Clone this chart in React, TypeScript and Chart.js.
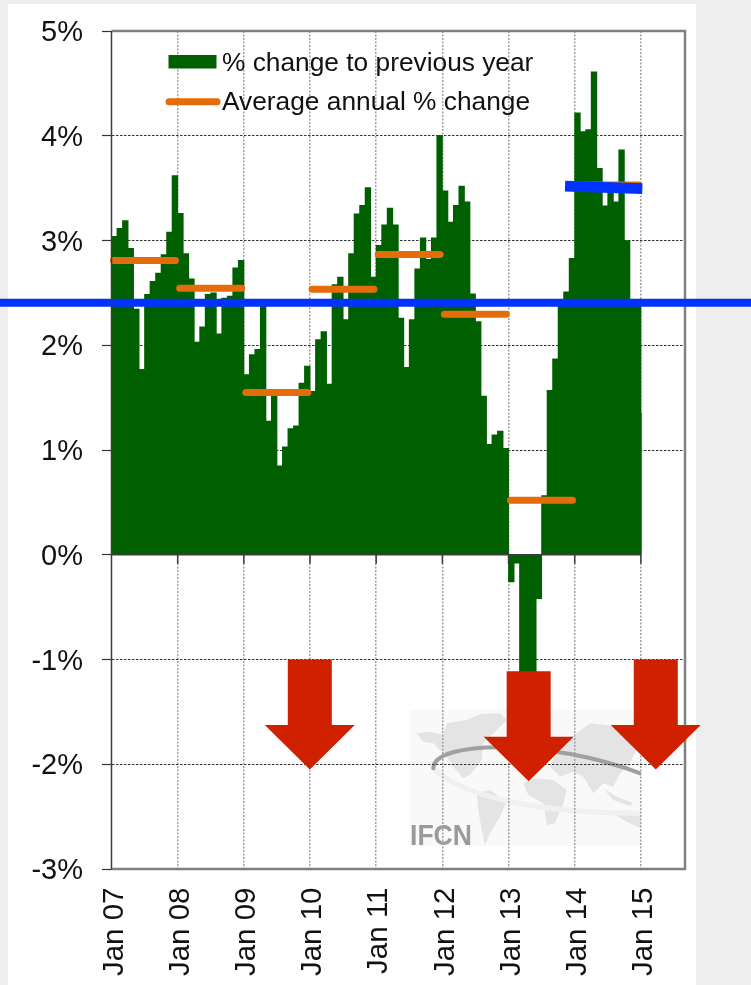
import React, { useEffect, useRef } from "react";
import { Chart, registerables } from "chart.js";

Chart.register(...registerables);

const FONT = '"Liberation Sans", Arial, sans-serif';

// Year labels, one every 12 months; the axis holds 104 months (Jan 07 .. Aug 15)
const yearLabels = ["Jan 07", "Jan 08", "Jan 09", "Jan 10", "Jan 11", "Jan 12", "Jan 13", "Jan 14", "Jan 15"];
const monthCount = 104;

const changeToPreviousYear = [
  3.04, 3.115, 3.19, 2.925, 2.345, 1.77, 2.485, 2.61, 2.69, 2.865, 3.08, 3.62,
  3.26, 2.875, 2.635, 2.03, 2.175, 2.485, 2.5, 2.11, 2.45, 2.47, 2.74, 2.81,
  1.72, 1.91, 1.96, 2.38, 1.275, 1.53, 0.85, 1.03, 1.205, 1.23, 1.64, 1.8,
  1.56, 2.055, 2.13, 1.63, 2.58, 2.65, 2.245, 2.875, 3.255, 3.335, 3.505, 2.65,
  2.955, 3.15, 3.31, 3.15, 2.26, 1.79, 2.245, 2.73, 3.025, 2.82, 3.025, 4.005,
  3.475, 3.175, 3.335, 3.52, 3.37, 2.49, 2.225, 1.515, 1.055, 1.145, 1.18, 1.015,
  -0.26, -0.08, -1.3, -1.45, -1.25, -0.42, 0.565, 1.57, 1.87, 2.42, 2.51, 2.83,
  4.22, 4.04, 4.06, 4.61, 3.69, 3.33, 3.47, 3.37, 3.865, 3.0, 2.4, 2.38,
];
const finalMonthValue = 1.356;

const averageAnnualChange = [2.81, 2.545, 1.55, 2.535, 2.867, 2.295, 0.52, 3.53];

const longBlueLevel = 2.405;
const shortBlueStart = { month: 82.25, value: 3.52 };
const shortBlueEnd = { month: 96.26, value: 3.495 };

const arrowMonths = [35.96, 75.65, 98.7];
const arrowTopValues = [-1, -1.112, -1];

const yTicks = [-3, -2, -1, 0, 1, 2, 3, 4, 5];
const legendLabels = ["% change to previous year", "Average annual % change"];

const GREEN = "#006000";
const ORANGE = "#E46C0A";
const BLUE = "#0033FF";
const RED = "#CF2000";

const avgPoints: any[] = [];
averageAnnualChange.forEach((v, i) => {
  avgPoints.push({ x: i * 12 + 0.36, y: v }, { x: i * 12 + 11.6, y: v }, { x: i * 12 + 11.8, y: null });
});

// Decorative map watermark: rough outlines in units of the 3x crop
const continents: number[][][] = [
  [[50,100],[90,95],[130,105],[140,70],[200,60],[240,42],[300,40],[320,60],[290,90],[250,130],[245,180],[215,220],[190,235],[160,200],[140,170],[100,130],[70,125]],
  [[230,280],[270,270],[320,305],[300,350],[270,400],[255,435],[245,390],[235,330]],
  [[370,250],[400,235],[460,240],[500,270],[490,310],[465,370],[440,375],[430,310],[385,285]],
  [[450,200],[470,150],[530,100],[570,70],[700,85],[722,120],[690,190],[660,220],[640,260],[610,250],[580,280],[550,230],[520,215],[480,230]],
  [[610,265],[650,290],[700,310],[690,318],[640,300]],
  [[645,345],[680,330],[722,345],[722,385],[680,365]],
];

const watermark = {
  id: "watermark",
  beforeDraw(chart: any) {
    const { ctx } = chart;
    ctx.save();
    ctx.fillStyle = "#f9f9f9";
    ctx.fillRect(410, 710, 231, 136);
    ctx.beginPath();
    ctx.rect(410, 710, 231, 136);
    ctx.clip();
    ctx.translate(400, 700);
    ctx.scale(1 / 3, 1 / 3);
    ctx.fillStyle = "#e4e4e4";
    continents.forEach((poly) => {
      ctx.beginPath();
      poly.forEach(([x, y], i) => (i ? ctx.lineTo(x, y) : ctx.moveTo(x, y)));
      ctx.closePath();
      ctx.fill();
    });
    ctx.lineCap = "round";
    ctx.strokeStyle = "#f0f0f0";
    ctx.lineWidth = 16;
    ctx.beginPath();
    ctx.moveTo(100, 205);
    ctx.bezierCurveTo(200, 300, 450, 340, 720, 340);
    ctx.stroke();
    ctx.strokeStyle = "#a0a0a0";
    ctx.lineWidth = 12;
    ctx.beginPath();
    ctx.moveTo(100, 205);
    ctx.bezierCurveTo(100, 120, 450, 115, 725, 222);
    ctx.stroke();
    ctx.restore();
    ctx.save();
    ctx.fillStyle = "#9a9a9a";
    ctx.font = `bold 30px ${FONT}`;
    ctx.textAlign = "left";
    ctx.textBaseline = "alphabetic";
    ctx.fillText("IFCN", 410, 845, 62);
    ctx.restore();
  },
};

const frame = {
  id: "frame",
  beforeDatasetsDraw(chart: any) {
    const { ctx, chartArea: a } = chart;
    ctx.save();
    ctx.strokeStyle = "#808080";
    ctx.lineWidth = 2.5;
    ctx.beginPath();
    ctx.moveTo(a.left, a.bottom);
    ctx.lineTo(a.right, a.bottom);
    ctx.lineTo(a.right, a.top);
    ctx.lineTo(a.left, a.top);
    ctx.stroke();
    ctx.restore();
  },
  afterDatasetsDraw(chart: any) {
    const { ctx, chartArea: a, scales } = chart;
    const y0 = scales.y.getPixelForValue(0);
    ctx.save();
    ctx.strokeStyle = "#3c3c3c";
    ctx.lineWidth = 1.5;
    ctx.beginPath();
    ctx.moveTo(a.left, a.top);
    ctx.lineTo(a.left, a.bottom);
    yearLabels.forEach((_, i) => {
      const px = scales.x.getPixelForValue(i * 12);
      ctx.moveTo(px, y0);
      ctx.lineTo(px, y0 + 9);
    });
    ctx.stroke();
    ctx.restore();
  },
};

const arrowsAndLegend = {
  id: "arrowsAndLegend",
  afterDraw(chart: any) {
    const { ctx, scales } = chart;
    ctx.save();
    ctx.fillStyle = RED;
    arrowMonths.forEach((m, i) => {
      const cx = scales.x.getPixelForValue(m);
      const top = scales.y.getPixelForValue(arrowTopValues[i]);
      ctx.beginPath();
      ctx.moveTo(cx - 22, top);
      ctx.lineTo(cx + 22, top);
      ctx.lineTo(cx + 22, top + 65.5);
      ctx.lineTo(cx + 45, top + 65.5);
      ctx.lineTo(cx, top + 110);
      ctx.lineTo(cx - 45, top + 65.5);
      ctx.lineTo(cx - 22, top + 65.5);
      ctx.closePath();
      ctx.fill();
    });
    ctx.fillStyle = GREEN;
    ctx.fillRect(168.5, 55, 48, 13.5);
    ctx.strokeStyle = ORANGE;
    ctx.lineWidth = 7;
    ctx.lineCap = "round";
    ctx.beginPath();
    ctx.moveTo(169, 101.7);
    ctx.lineTo(217, 101.7);
    ctx.stroke();
    ctx.fillStyle = "#111";
    ctx.font = `26.3px ${FONT}`;
    ctx.textAlign = "left";
    ctx.textBaseline = "alphabetic";
    ctx.fillText(legendLabels[0], 222, 70.7);
    ctx.fillText(legendLabels[1], 222, 110.3);
    ctx.restore();
  },
};

export default function App() {
  const ref = useRef<HTMLCanvasElement | null>(null);

  useEffect(() => {
    const chart = new Chart(ref.current as HTMLCanvasElement, {
      type: "bar",
      data: {
        datasets: [
          {
            type: "line",
            label: "Long-run level",
            data: [{ x: -21, y: longBlueLevel }, { x: 116, y: longBlueLevel }],
            borderColor: BLUE,
            borderWidth: 8,
            pointRadius: 0,
            clip: false,
            order: 1,
          },
          {
            type: "line",
            label: "2014 level",
            data: [
              { x: shortBlueStart.month, y: shortBlueStart.value },
              { x: shortBlueEnd.month, y: shortBlueEnd.value },
            ],
            borderColor: BLUE,
            borderWidth: 10.7,
            pointRadius: 0,
            clip: false,
            order: 1,
          },
          {
            type: "line",
            label: legendLabels[1],
            data: avgPoints,
            borderColor: ORANGE,
            borderWidth: 7,
            borderCapStyle: "round",
            pointRadius: 0,
            spanGaps: false,
            clip: false,
            order: 2,
          },
          {
            type: "line",
            label: "Zero line",
            data: [{ x: 0, y: 0 }, { x: 96, y: 0 }],
            borderColor: "#3c3c3c",
            borderWidth: 1.5,
            pointRadius: 0,
            order: 3,
          },
          {
            type: "line",
            label: "Final month",
            data: [{ x: 96, y: 0 }, { x: 96, y: finalMonthValue }],
            borderColor: GREEN,
            borderWidth: 1.5,
            pointRadius: 0,
            clip: false,
            order: 4,
          },
          {
            type: "bar",
            label: legendLabels[0],
            data: changeToPreviousYear.map((y, i) => ({ x: i + 0.5, y })),
            backgroundColor: GREEN,
            borderWidth: 0,
            barThickness: 5.7,
            order: 5,
          },
        ],
      } as any,
      options: {
        animation: false,
        responsive: false,
        layout: { padding: { top: 31, right: 66, left: 0, bottom: 0 } },
        plugins: {
          legend: { display: false },
          title: { display: false },
          tooltip: { enabled: false },
        },
        scales: {
          x: {
            type: "linear",
            position: "bottom",
            offset: false,
            min: 0,
            max: monthCount,
            afterBuildTicks(s: any) {
              s.ticks = yearLabels.map((_, i) => ({ value: i * 12 }));
            },
            afterFit(s: any) {
              s.height = 116;
              s.paddingLeft = 0;
              s.paddingRight = 0;
            },
            border: { display: false, dash: [2, 1.5] },
            grid: {
              offset: false,
              drawTicks: false,
              lineWidth: 1.5,
              color: (c: any) => (c.tick?.value > 0 ? "#a0a0a0" : "rgba(0,0,0,0)"),
            },
            ticks: {
              autoSkip: false,
              maxRotation: 90,
              minRotation: 90,
              padding: 18.5,
              labelOffset: 3,
              color: "#111",
              font: { family: FONT, size: 29.5 },
              callback: (v: any) => yearLabels[Number(v) / 12],
            },
          },
          y: {
            type: "linear",
            position: "left",
            min: yTicks[0],
            max: yTicks[yTicks.length - 1],
            afterFit(s: any) {
              s.width = 111.5;
              s.paddingTop = 0;
              s.paddingBottom = 0;
            },
            afterBuildTicks(s: any) {
              s.ticks = yTicks.map((value) => ({ value }));
            },
            border: { display: false, dash: [2.5, 1.5] },
            grid: {
              lineWidth: 1,
              tickLength: 9.5,
              tickColor: "#333",
              tickWidth: 1.2,
              color: (c: any) => {
                const v = c.tick?.value;
                return v === 0 || v === 5 || v === -3 ? "rgba(0,0,0,0)" : "#333";
              },
            },
            ticks: {
              padding: 19,
              labelOffset: 2,
              color: "#111",
              font: { family: FONT, size: 29 },
              callback: (v: any) => `${v}%`,
            },
          },
        },
      } as any,
      plugins: [watermark, frame, arrowsAndLegend],
    });
    return () => chart.destroy();
  }, []);

  return (
    <div style={{ position: "absolute", left: 0, top: 0, width: 751, height: 985, background: "#eeeeee", overflow: "hidden" }}>
      <div style={{ position: "absolute", left: 8, top: 4, width: 688, height: 981, background: "#ffffff" }} />
      <canvas ref={ref} width={751} height={985} style={{ position: "absolute", left: 0, top: 0, display: "block" }} />
    </div>
  );
}
